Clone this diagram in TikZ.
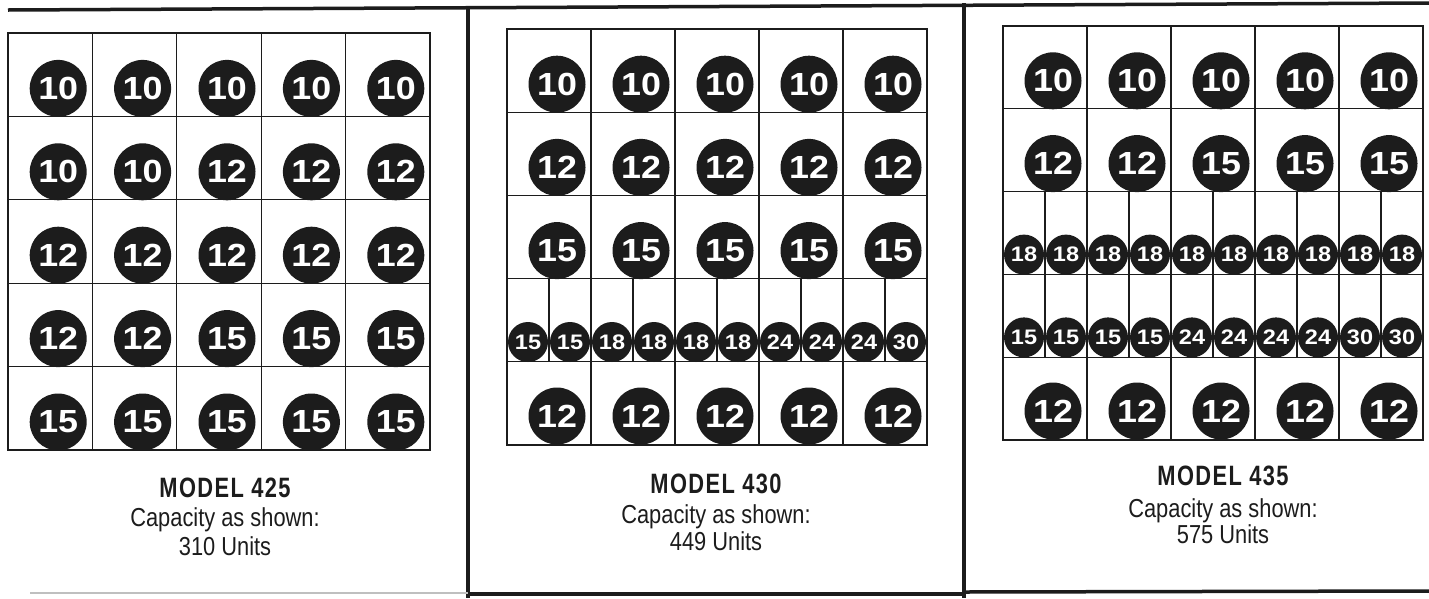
\documentclass[tikz,border=0pt]{standalone}
\usepackage{fontspec}
\newfontfamily\condfont[FakeStretch=0.84]{Liberation Sans}
\newfontfamily\titlefont[FakeStretch=0.78,LetterSpace=5]{Liberation Sans}
\newfontfamily\circfont[FakeStretch=1.12]{Liberation Sans}
\definecolor{ink}{HTML}{1C1C1C}
\newcommand\bigrow[5]{\foreach \v [count=\c] in {#5} {\node[bigc] (#1c\c) at ({#2+(\c-0.5)*#3+8},#4) {\v};}}
\newcommand\smallrow[5]{\foreach \v [count=\c] in {#5} {\node[smallc] (#1c\c) at ({#2+(\c-0.5)*#3},#4) {\v};}}
\tikzset{
  bigc/.style={circle, fill=ink, text=white, minimum size=57pt, inner sep=0pt, font=\circfont\bfseries\fontsize{32}{32}\selectfont},
  smallc/.style={circle, fill=ink, text=white, minimum size=40pt, inner sep=0pt, font=\circfont\bfseries\fontsize{21}{21}\selectfont},
  gridline/.style={line width=1.3pt, draw=ink},
  gridframe/.style={line width=2.6pt, draw=ink},
  rulebar/.style={line width=3.5pt, draw=ink},
  faintbar/.style={line width=1.5pt, draw=black!25},
  titletext/.style={anchor=base, inner sep=0pt, text=ink, font={\titlefont\bfseries\fontsize{28}{28}\selectfont}},
  captext/.style={anchor=base, inner sep=0pt, text=ink, font={\condfont\fontsize{26}{26}\selectfont}}
}
\begin{document}
\begin{tikzpicture}[x=1pt,y=-1pt]
\useasboundingbox[fill=white] (0,0) rectangle (1429,598);
% frame rules
\coordinate (tA) at (8,10);
\coordinate (tB) at (1429,3);
\coordinate (v1a) at (468,8);
\coordinate (v1b) at (468,598);
\coordinate (v2a) at (964,3);
\coordinate (v2b) at (964,598);
\coordinate (b1a) at (30,593);
\coordinate (b1b) at (468,593);
\coordinate (b2a) at (468,594);
\coordinate (b2b) at (964,594);
\coordinate (b3a) at (964,592);
\coordinate (b3b) at (1429,591);
\draw[rulebar] (tA) -- (tB);
\draw[rulebar] (v1a) -- (v1b);
\draw[rulebar] (v2a) -- (v2b);
\draw[faintbar] (b1a) -- (b1b);
\draw[rulebar] (b2a) -- (b2b);
\draw[rulebar] (b3a) -- (b3b);

% ---------- panel 1 : x0=8, x1=430, y0=33, y1=450
\foreach \i in {1,...,4} {
  \draw[gridline] (8,{33+\i*83.4}) -- (430,{33+\i*83.4});
  \draw[gridline] ({8+\i*84.4},33) -- ({8+\i*84.4},450);
}
\draw[gridframe] (8,33) rectangle (430,450);
\bigrow{p1r1}{8}{84.4}{88.4}{10,10,10,10,10}
\bigrow{p1r2}{8}{84.4}{171.8}{10,10,12,12,12}
\bigrow{p1r3}{8}{84.4}{255.2}{12,12,12,12,12}
\bigrow{p1r4}{8}{84.4}{338.6}{12,12,15,15,15}
\bigrow{p1r5}{8}{84.4}{422}{15,15,15,15,15}
\node[titletext] (m1) at (225,497) {MODEL 425};
\node[captext] (c1) at (225,526) {Capacity as shown:};
\node[captext] (u1) at (225,555) {310 Units};

% ---------- panel 2 : x0=507, x1=927, y0=29, y1=445
\foreach \i in {1,...,4} {
  \draw[gridline] (507,{29+\i*83.2}) -- (927,{29+\i*83.2});
  \draw[gridline] ({507+\i*84},29) -- ({507+\i*84},445);
}
\foreach \i in {1,...,5} {
  \draw[gridline] ({507+(\i-0.5)*84},278.6) -- ({507+(\i-0.5)*84},361.8);
}
\draw[gridframe] (507,29) rectangle (927,445);
\bigrow{p2r1}{507}{84}{84.2}{10,10,10,10,10}
\bigrow{p2r2}{507}{84}{167.4}{12,12,12,12,12}
\bigrow{p2r3}{507}{84}{250.6}{15,15,15,15,15}
\smallrow{p2r4}{507}{42}{342}{15,15,18,18,18,18,24,24,24,30}
\bigrow{p2r5}{507}{84}{416}{12,12,12,12,12}
\node[titletext] (m2) at (716,493) {MODEL 430};
\node[captext] (c2) at (716,523) {Capacity as shown:};
\node[captext] (u2) at (716,550) {449 Units};

% ---------- panel 3 : x0=1003, x1=1423, y0=26, y1=440
\foreach \i in {1,...,4} {
  \draw[gridline] (1003,{26+\i*82.8}) -- (1423,{26+\i*82.8});
  \draw[gridline] ({1003+\i*84},26) -- ({1003+\i*84},440);
}
\foreach \i in {1,...,5} {
  \draw[gridline] ({1003+(\i-0.5)*84},191.6) -- ({1003+(\i-0.5)*84},357.2);
}
\draw[gridframe] (1003,26) rectangle (1423,440);
\bigrow{p3r1}{1003}{84}{80.8}{10,10,10,10,10}
\bigrow{p3r2}{1003}{84}{163.6}{12,12,15,15,15}
\smallrow{p3r3}{1003}{42}{254.6}{18,18,18,18,18,18,18,18,18,18}
\smallrow{p3r4}{1003}{42}{337.4}{15,15,15,15,24,24,24,24,30,30}
\bigrow{p3r5}{1003}{84}{411}{12,12,12,12,12}
\node[titletext] (m3) at (1223,485) {MODEL 435};
\node[captext] (c3) at (1223,517) {Capacity as shown:};
\node[captext] (u3) at (1223,543) {575 Units};
\end{tikzpicture}
\end{document}
